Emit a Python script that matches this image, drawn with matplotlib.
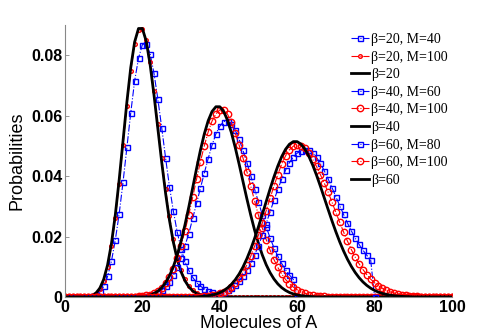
import numpy as np
import matplotlib
matplotlib.use('Agg')
import matplotlib.pyplot as plt

N = 101
molecules = np.arange(N)

# values, given from a start index; everything else is 0
blue20_start = 7
blue20 = [0.0002, 0.0007, 0.0016, 0.0035, 0.0068, 0.0118, 0.0188, 0.0275, 0.0380, 0.0495,
          0.0610, 0.0715, 0.0790, 0.0835, 0.0838, 0.0805, 0.0740, 0.0655, 0.0560, 0.0460,
          0.0365, 0.0285, 0.0215, 0.0160, 0.0118, 0.0088, 0.0065, 0.0048, 0.0036, 0.0027,
          0.0020, 0.0015, 0.0011]
red20_start = 5
red20 = [0.00004, 0.00014, 0.00044, 0.00115, 0.00262, 0.00535, 0.00990, 0.01675, 0.02605, 0.03750,
         0.05030, 0.06330, 0.07490, 0.08360, 0.08840, 0.08870, 0.08500, 0.07780, 0.06810, 0.05710,
         0.04600, 0.03570, 0.02670, 0.01925, 0.01340, 0.00905, 0.00590, 0.00375, 0.00230, 0.00138,
         0.00080, 0.00045, 0.00025, 0.00013, 0.00007]
black20_start = 5
black20 = [0.00005, 0.00018, 0.00052, 0.00131, 0.00291, 0.00582, 0.01058, 0.01763, 0.02712, 0.03874,
           0.05165, 0.06456, 0.07595, 0.08439, 0.08884, 0.08884, 0.08461, 0.07691, 0.06688, 0.05573,
           0.04459, 0.03430, 0.02541, 0.01815, 0.01252, 0.00834, 0.00538, 0.00337, 0.00204, 0.00120,
           0.00069, 0.00038, 0.00021, 0.00011]

blue40_start = 20
blue40 = [0.0001, 0.0003, 0.0005, 0.0009, 0.0015, 0.0023, 0.0035, 0.0051, 0.0072, 0.0098,
          0.0130, 0.0170, 0.0210, 0.0260, 0.0310, 0.0360, 0.0410, 0.0458, 0.0502, 0.0540,
          0.0565, 0.0580, 0.0583, 0.0572, 0.0552, 0.0522, 0.0485, 0.0445, 0.0402, 0.0357,
          0.0314, 0.0272, 0.0232, 0.0196, 0.0163, 0.0135, 0.0111, 0.0090, 0.0073, 0.0058]
red40_start = 19
red40 = [0.0002, 0.0003, 0.0005, 0.0008, 0.0013, 0.0020, 0.0031, 0.0046, 0.0067, 0.0094,
         0.0128, 0.0170, 0.0218, 0.0272, 0.0330, 0.0390, 0.0448, 0.0500, 0.0546, 0.0582,
         0.0606, 0.0619, 0.0620, 0.0605, 0.0578, 0.0542, 0.0502, 0.0460, 0.0415, 0.0367,
         0.0318, 0.0270, 0.0228, 0.0190, 0.0155, 0.0124, 0.0098, 0.0076, 0.0058, 0.0044,
         0.0033, 0.0024, 0.0017, 0.0012, 0.0008, 0.0006, 0.0004, 0.0003, 0.0002, 0.0001]
black40_start = 19
black40 = [0.00010, 0.00019, 0.00037, 0.00067, 0.00116, 0.00193, 0.00308, 0.00474, 0.00703, 0.01004,
           0.01385, 0.01847, 0.02383, 0.02979, 0.03611, 0.04248, 0.04855, 0.05394, 0.05831, 0.06138,
           0.06295, 0.06295, 0.06141, 0.05849, 0.05441, 0.04946, 0.04397, 0.03823, 0.03254, 0.02712,
           0.02214, 0.01771, 0.01389, 0.01068, 0.00806, 0.00597, 0.00434, 0.00310, 0.00218, 0.00150,
           0.00102, 0.00068, 0.00045, 0.00029, 0.00018, 0.00011]

blue60_start = 35
blue60 = [0.0002, 0.0003, 0.0004, 0.0006, 0.0008, 0.0012, 0.0017, 0.0023, 0.0031, 0.0041,
          0.0054, 0.0070, 0.0089, 0.0112, 0.0139, 0.0170, 0.0205, 0.0243, 0.0282, 0.0320,
          0.0356, 0.0390, 0.0420, 0.0445, 0.0463, 0.0476, 0.0484, 0.0488, 0.0486, 0.0477,
          0.0462, 0.0442, 0.0418, 0.0391, 0.0362, 0.0332, 0.0302, 0.0273, 0.0245, 0.0219,
          0.0195, 0.0174, 0.0155, 0.0138, 0.0123]
red60_start = 36
red60 = [0.0002, 0.0003, 0.0005, 0.0008, 0.0012, 0.0017, 0.0024, 0.0034, 0.0046, 0.0062,
         0.0082, 0.0106, 0.0135, 0.0168, 0.0205, 0.0245, 0.0286, 0.0327, 0.0367, 0.0405,
         0.0440, 0.0467, 0.0487, 0.0499, 0.0503, 0.0501, 0.0492, 0.0476, 0.0456, 0.0432,
         0.0405, 0.0377, 0.0347, 0.0314, 0.0280, 0.0247, 0.0215, 0.0185, 0.0157, 0.0132,
         0.0110, 0.0091, 0.0074, 0.0059, 0.0047, 0.0037, 0.0029, 0.0022, 0.0017, 0.0013,
         0.0010, 0.0007, 0.0005, 0.0004, 0.0003, 0.0002, 0.0001]
black60_start = 35
black60 = [0.00015, 0.00025, 0.00040, 0.00063, 0.00096, 0.00143, 0.00210, 0.00300, 0.00418, 0.00571,
           0.00761, 0.00992, 0.01267, 0.01583, 0.01939, 0.02326, 0.02737, 0.03158, 0.03575, 0.03972,
           0.04333, 0.04643, 0.04887, 0.05055, 0.05141, 0.05141, 0.05057, 0.04894, 0.04661, 0.04370,
           0.04034, 0.03667, 0.03284, 0.02898, 0.02520, 0.02160, 0.01825, 0.01521, 0.01250, 0.01014,
           0.00811, 0.00640, 0.00499, 0.00384, 0.00291, 0.00219, 0.00162, 0.00119, 0.00086, 0.00061,
           0.00043, 0.00030, 0.00021, 0.00014, 0.00010]

betas = [20, 40, 60]
M_small = [40, 60, 80]


def full(start, vals):
    y = np.zeros(N)
    y[start:start + len(vals)] = vals
    return y


fig = plt.figure(figsize=(4.98, 3.35), dpi=100)
ax = fig.add_axes([0.1305, 0.1134, 0.777, 0.812])

blue_series = [full(blue20_start, blue20), full(blue40_start, blue40), full(blue60_start, blue60)]
red_series = [full(red20_start, red20), full(red40_start, red40), full(red60_start, red60)]
black_series = [full(black20_start, black20), full(black40_start, black40), full(black60_start, black60)]

for i, b in enumerate(betas):
    M = M_small[i]
    ax.plot(molecules[:M + 1], blue_series[i][:M + 1], '-.', color='b', lw=0.8,
            marker='s', ms=3.6, mfc='none', mec='b', mew=1.0,
            label=f'β={b}, M={M}')
    ax.plot(molecules, red_series[i], '-.', color='r', lw=0.8,
            marker='o', ms=2.6 if i == 0 else 4.6, mfc='none', mec='r', mew=1.0,
            label=f'β={b}, M=100')
    ax.plot(molecules, black_series[i], '-', color='k', lw=2.0, label=f'β={b}')

ax.set_xlim(0, 100)
ax.set_ylim(0, 0.09)
ax.set_xticks([0, 20, 40, 60, 80, 100])
ax.set_yticks([0, 0.02, 0.04, 0.06, 0.08])
ax.set_yticklabels(['0', '0.02', '0.04', '0.06', '0.08'])

for s in ['top', 'right']:
    ax.spines[s].set_visible(False)
for s in ['left', 'bottom']:
    ax.spines[s].set_color('#888888')
    ax.spines[s].set_linewidth(0.8)
ax.tick_params(direction='in', length=3, width=0.6, color='#888888', pad=2)
for lab in ax.get_xticklabels() + ax.get_yticklabels():
    lab.set_family('Liberation Sans')
    lab.set_fontweight('bold')
    lab.set_fontsize(11.5)

ax.set_xlabel('Molecules of A', family='Liberation Sans', fontsize=13, labelpad=0)
ax.set_ylabel('Probabilities', family='Liberation Sans', fontsize=13, labelpad=4)

ax.legend(loc='upper left', bbox_to_anchor=(351 / 498, 1 - 33 / 335),
          bbox_transform=fig.transFigure, frameon=False,
          prop={'family': 'Liberation Serif', 'size': 10},
          labelspacing=0.33, handlelength=1.3, handletextpad=0.15,
          borderpad=0, borderaxespad=0)

fig.savefig('out.png', dpi=100)
